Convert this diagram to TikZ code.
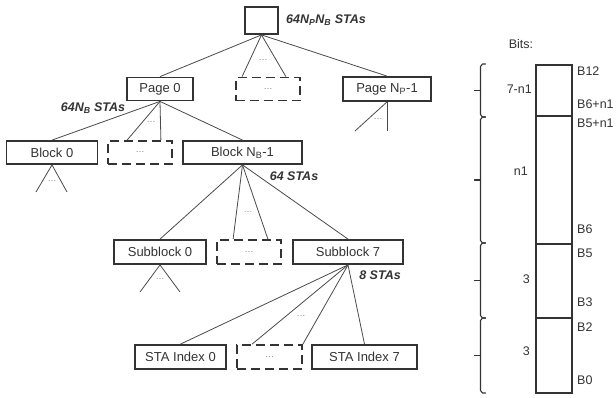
\documentclass[tikz,border=0pt]{standalone}
\usepackage{fontspec}
\setmainfont{Liberation Sans}
\usetikzlibrary{calc}
\definecolor{boxc}{HTML}{333333}
\definecolor{linec}{HTML}{4A4A4A}
\definecolor{txt}{HTML}{333333}
\begin{document}
\begin{tikzpicture}[x=1pt,y=-1pt,
  box/.style={draw=boxc, line width=1.8pt, inner sep=0pt, minimum height=23pt, font=\fontsize{13}{15}\selectfont, text=txt},
  dbox/.style={box, dash pattern=on 9pt off 5pt},
  lbl/.style={font=\fontsize{12.5}{15}\selectfont\bfseries\itshape, text=txt, inner sep=0pt},
  edge/.style={draw=linec, line width=0.8pt},
  dots/.style={font=\fontsize{9}{10}\selectfont, text=gray, inner sep=0pt},
  bit/.style={font=\fontsize{12.5}{15}\selectfont, text=txt, inner sep=0pt},
  field/.style={draw=boxc, line width=1.6pt, inner sep=0pt, minimum width=36pt},
  brc/.style={draw=boxc, line width=1.1pt, line cap=round, line join=round}]
\useasboundingbox (0,0) rectangle (616,397);

% tree nodes
\node[box, minimum width=33pt, minimum height=27pt] (top) at (261.5,20.5) {};
\node[lbl, anchor=west] (lt) at (286,20) {64N\textsubscript{P}N\textsubscript{B} STAs};

\node[box, minimum width=66pt] (page0) at (160,89) {Page 0};
\node[dbox, minimum width=64pt] (dashP) at (268,89) {\textcolor{gray}{\fontsize{9}{10}\selectfont\ldots}};
\node[box, minimum width=88pt, minimum height=24pt] (pageN) at (387,89) {Page N\textsubscript{P}-1};

\node[box, minimum width=91pt] (block0) at (52,152.5) {Block 0};
\node[dbox, minimum width=64pt] (dashB) at (140,152.5) {\textcolor{gray}{\fontsize{9}{10}\selectfont\ldots}};
\node[box, minimum width=119pt] (blockN) at (242.5,152.5) {Block N\textsubscript{B}-1};
\node[lbl] (lp) at (93,108) {64N\textsubscript{B} STAs};

\node[box, minimum width=92pt, minimum height=24pt] (sub0) at (160,252) {Subblock 0};
\node[dbox, minimum width=64pt, minimum height=24pt] (dashS) at (249,252) {\textcolor{gray}{\fontsize{9}{10}\selectfont\ldots}};
\node[box, minimum width=110pt, minimum height=24pt] (sub7) at (348,252) {Subblock 7};
\node[lbl] (lb) at (294,176) {64 STAs};

\node[box, minimum width=91pt, minimum height=24pt] (sta0) at (180.5,357) {STA Index 0};
\node[dbox, minimum width=65pt, minimum height=24pt] (dashT) at (269.5,357) {\textcolor{gray}{\fontsize{9}{10}\selectfont\ldots}};
\node[box, minimum width=105pt, minimum height=24pt] (sta7) at (364.5,357) {STA Index 7};
\node[lbl] (ls) at (380,275) {8 STAs};

% free ends
\coordinate (pnL) at (355,131);
\coordinate (pnR) at (387,131);
\coordinate (b0L) at (36,192);
\coordinate (b0R) at (67,192);
\coordinate (s0L) at (140,292);
\coordinate (s0R) at (180,292);

% edges
\draw[edge] (top.south) -- (page0.north);
\draw[edge] (top.south) -- ($(dashP.north west)+(7,0)$);
\draw[edge] (top.south) -- ($(dashP.north east)+(-15,0)$);
\draw[edge] (top.south) -- (pageN.north);
\node[dots] (d1) at (263,60) {\ldots};

\draw[edge] (pageN.south) -- (pnL);
\draw[edge] (pageN.south) -- (pnR);
\node[dots] (d2) at (378,119) {\ldots};

\draw[edge] (page0.south) -- (block0.north);
\draw[edge] (page0.south) -- ($(dashB.north west)+(20,0)$);
\draw[edge] (page0.south) -- ($(dashB.north east)+(-12,0)$);
\draw[edge] (page0.south) -- (blockN.north);
\node[dots] (d3) at (151,122) {\ldots};

\draw[edge] (block0.south) -- (b0L);
\draw[edge] (block0.south) -- (b0R);
\node[dots] (d4) at (52,181) {\ldots};

\draw[edge] (blockN.south) -- (sub0.north);
\draw[edge] (blockN.south) -- ($(dashS.north west)+(17,0)$);
\draw[edge] (blockN.south) -- ($(dashS.north east)+(-14,0)$);
\draw[edge] (blockN.south) -- (sub7.north);
\node[dots] (d5) at (248,212) {\ldots};

\draw[edge] (sub0.south) -- (s0L);
\draw[edge] (sub0.south) -- (s0R);
\node[dots] (d6) at (160,279) {\ldots};

\draw[edge] (sub7.south) -- (sta0.north);
\draw[edge] (sub7.south) -- ($(dashT.north west)+(16,0)$);
\draw[edge] (sub7.south) -- (dashT.north east);
\draw[edge] (sub7.south) -- (sta7.north);
\node[dots] (d7) at (301,316) {\ldots};

% bits column
\node[bit] (bits) at (521,44) {Bits:};
\node[field, minimum height=51pt, anchor=north west] (f1) at (535,64) {};
\node[field, minimum height=128pt, anchor=north west] (f2) at (535,115) {};
\node[field, minimum height=74pt, anchor=north west] (f3) at (535,243) {};
\node[field, minimum height=75pt, anchor=north west] (f4) at (535,317) {};

\node[bit, anchor=west] (b12) at (577,71) {B12};
\node[bit, anchor=west] (b6n) at (577,104) {B6+n1};
\node[bit, anchor=west] (b5n) at (577,123) {B5+n1};
\node[bit, anchor=west] (b6) at (577,229) {B6};
\node[bit, anchor=west] (b5) at (577,253) {B5};
\node[bit, anchor=west] (b3) at (577,302) {B3};
\node[bit, anchor=west] (b2) at (577,327) {B2};
\node[bit, anchor=west] (b0) at (577,380) {B0};

\node[bit, anchor=east] (w1) at (532,89) {7-n1};
\node[bit, anchor=east] (w2) at (528,171) {n1};
\node[bit, anchor=east] (w3) at (530,279) {3};
\node[bit, anchor=east] (w4) at (530,351) {3};

% braces
\foreach \ya/\yb in {64/117,117/243,243/318,318/393}{
  \pgfmathsetmacro{\ym}{(\ya+\yb)/2}
  \draw[brc] (485.5,\ya) -- (482.5,\ya) -- (480.5,\ya+2.5) -- (480.5,\yb-2.5) -- (482.5,\yb) -- (485.5,\yb);
  \draw[brc] (480.5,\ym) -- (474.5,\ym);
}
\end{tikzpicture}
\end{document}
